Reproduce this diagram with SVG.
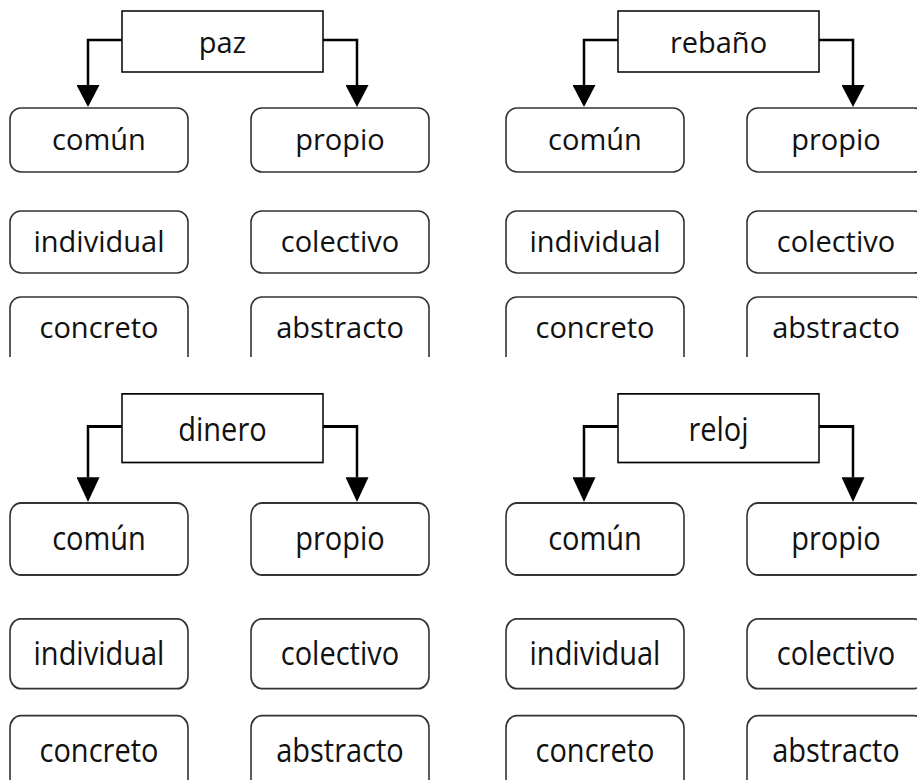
<svg xmlns="http://www.w3.org/2000/svg" width="917" height="780" viewBox="0 0 917 780">
<style>
.root{fill:#fff;stroke:#000;stroke-width:1.5}
.box{fill:#fff;stroke:#333;stroke-width:1.6}
.conn{fill:none;stroke:#000;stroke-width:2.5}
text{font-family:"Open Sans","Liberation Sans",sans-serif;font-size:29px;fill:#111;text-anchor:middle}
</style>
<defs>
<marker id="arr" viewBox="0 0 22 23" refX="0" refY="11.5" markerWidth="22" markerHeight="23" markerUnits="userSpaceOnUse" orient="auto">
<path d="M0,0 L22,11.5 L0,23 Z" fill="#000"/>
</marker>
<clipPath id="topclip" clipPathUnits="userSpaceOnUse"><rect x="0" y="0" width="917" height="357"/></clipPath>
</defs>
<rect width="917" height="780" fill="#fff"/>
<g clip-path="url(#topclip)">
<g id="q-paz">
<g id="connectors-paz"><path class="conn" d="M122,40 H88 V85" marker-end="url(#arr)"/><path class="conn" d="M323,40 H357 V85" marker-end="url(#arr)"/></g>
<g id="paz"><rect class="root" x="122" y="11" width="201" height="61"/><text x="222.5" y="53">paz</text></g>
<g id="paz-comun"><rect class="box" x="10" y="108" width="178" height="64" rx="11"/><text x="99" y="150">común</text></g>
<g id="paz-propio"><rect class="box" x="251" y="108" width="178" height="64" rx="11"/><text x="340" y="150">propio</text></g>
<g id="paz-individual"><rect class="box" x="10" y="211" width="178" height="62" rx="11"/><text x="99" y="252">individual</text></g>
<g id="paz-colectivo"><rect class="box" x="251" y="211" width="178" height="62" rx="11"/><text x="340" y="252">colectivo</text></g>
<g id="paz-concreto"><rect class="box" x="10" y="297" width="178" height="70" rx="11"/><text x="99" y="338">concreto</text></g>
<g id="paz-abstracto"><rect class="box" x="251" y="297" width="178" height="70" rx="11"/><text x="340" y="338">abstracto</text></g>
</g>
<g id="q-rebano" transform="translate(496,0)">
<g id="connectors-rebano"><path class="conn" d="M122,40 H88 V85" marker-end="url(#arr)"/><path class="conn" d="M323,40 H357 V85" marker-end="url(#arr)"/></g>
<g id="rebano"><rect class="root" x="122" y="11" width="201" height="61"/><text x="222.5" y="53">rebaño</text></g>
<g id="rebano-comun"><rect class="box" x="10" y="108" width="178" height="64" rx="11"/><text x="99" y="150">común</text></g>
<g id="rebano-propio"><rect class="box" x="251" y="108" width="178" height="64" rx="11"/><text x="340" y="150">propio</text></g>
<g id="rebano-individual"><rect class="box" x="10" y="211" width="178" height="62" rx="11"/><text x="99" y="252">individual</text></g>
<g id="rebano-colectivo"><rect class="box" x="251" y="211" width="178" height="62" rx="11"/><text x="340" y="252">colectivo</text></g>
<g id="rebano-concreto"><rect class="box" x="10" y="297" width="178" height="70" rx="11"/><text x="99" y="338">concreto</text></g>
<g id="rebano-abstracto"><rect class="box" x="251" y="297" width="178" height="70" rx="11"/><text x="340" y="338">abstracto</text></g>
</g>
</g>
<g id="q-dinero" transform="translate(0,381.5) scale(1,1.125)">
<g id="connectors-dinero"><path class="conn" d="M122,40 H88 V85" marker-end="url(#arr)"/><path class="conn" d="M323,40 H357 V85" marker-end="url(#arr)"/></g>
<g id="dinero"><rect class="root" x="122" y="11" width="201" height="61"/><text x="222.5" y="53">dinero</text></g>
<g id="dinero-comun"><rect class="box" x="10" y="108" width="178" height="64" rx="11"/><text x="99" y="150">común</text></g>
<g id="dinero-propio"><rect class="box" x="251" y="108" width="178" height="64" rx="11"/><text x="340" y="150">propio</text></g>
<g id="dinero-individual"><rect class="box" x="10" y="211" width="178" height="62" rx="11"/><text x="99" y="252">individual</text></g>
<g id="dinero-colectivo"><rect class="box" x="251" y="211" width="178" height="62" rx="11"/><text x="340" y="252">colectivo</text></g>
<g id="dinero-concreto"><rect class="box" x="10" y="297" width="178" height="70" rx="11"/><text x="99" y="338">concreto</text></g>
<g id="dinero-abstracto"><rect class="box" x="251" y="297" width="178" height="70" rx="11"/><text x="340" y="338">abstracto</text></g>
</g>
<g id="q-reloj" transform="translate(496,381.5) scale(1,1.125)">
<g id="connectors-reloj"><path class="conn" d="M122,40 H88 V85" marker-end="url(#arr)"/><path class="conn" d="M323,40 H357 V85" marker-end="url(#arr)"/></g>
<g id="reloj"><rect class="root" x="122" y="11" width="201" height="61"/><text x="222.5" y="53">reloj</text></g>
<g id="reloj-comun"><rect class="box" x="10" y="108" width="178" height="64" rx="11"/><text x="99" y="150">común</text></g>
<g id="reloj-propio"><rect class="box" x="251" y="108" width="178" height="64" rx="11"/><text x="340" y="150">propio</text></g>
<g id="reloj-individual"><rect class="box" x="10" y="211" width="178" height="62" rx="11"/><text x="99" y="252">individual</text></g>
<g id="reloj-colectivo"><rect class="box" x="251" y="211" width="178" height="62" rx="11"/><text x="340" y="252">colectivo</text></g>
<g id="reloj-concreto"><rect class="box" x="10" y="297" width="178" height="70" rx="11"/><text x="99" y="338">concreto</text></g>
<g id="reloj-abstracto"><rect class="box" x="251" y="297" width="178" height="70" rx="11"/><text x="340" y="338">abstracto</text></g>
</g>
</svg>
